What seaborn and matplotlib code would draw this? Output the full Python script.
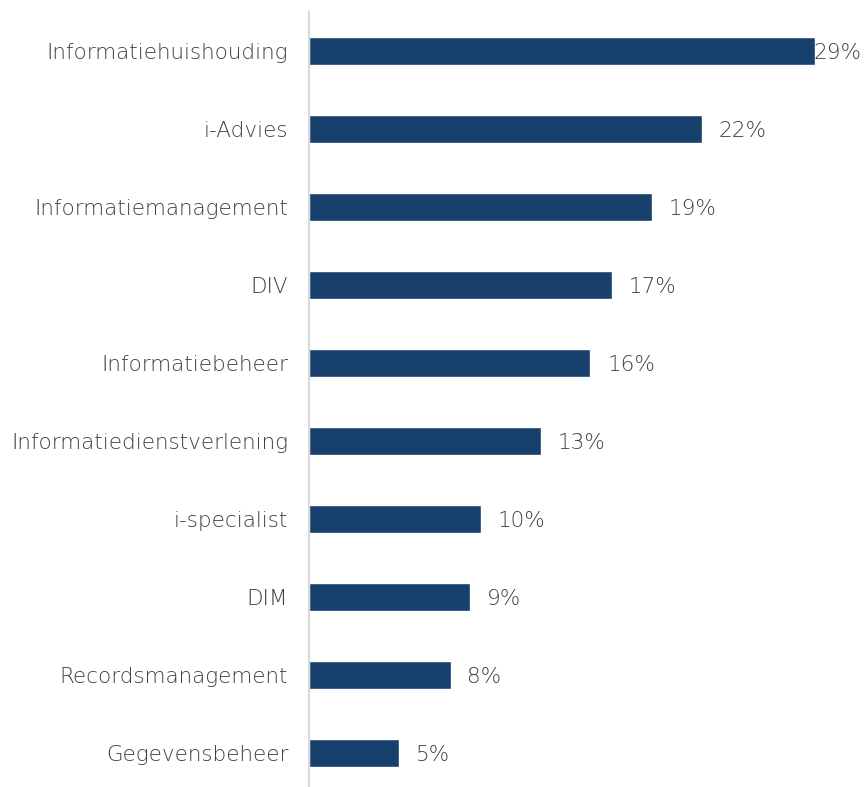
import matplotlib
matplotlib.use("Agg")
import matplotlib.pyplot as plt
import seaborn as sns
import pandas as pd

# terms used, share of respondents (%)
categories = ["Informatiehuishouding", "i-Advies", "Informatiemanagement", "DIV",
              "Informatiebeheer", "Informatiedienstverlening", "i-specialist", "DIM",
              "Recordsmanagement", "Gegevensbeheer"]
values = [28.6, 22.2, 19.4, 17.1, 15.9, 13.1, 9.7, 9.1, 8.0, 5.1]

df = pd.DataFrame({"term": categories, "pct": values})

sns.set_style("white")
plt.rcParams['font.family'] = ['DejaVu Sans']

fig = plt.figure(figsize=(8.64, 7.87), dpi=100)
ax = fig.add_axes([309 / 864, -5 / 787, 1 - 309 / 864, 780 / 787])

sns.barplot(data=df, x="pct", y="term", orient="h", color="#17406D",
            width=0.36, saturation=1, ax=ax)

ax.set_xlim(0, 31.36)
ax.set_xlabel("")
ax.set_ylabel("")
ax.set_xticks([])
for s in ["top", "right", "bottom"]:
    ax.spines[s].set_visible(False)
ax.spines["left"].set_color("#D9D9D9")
ax.spines["left"].set_linewidth(1.5)
ax.tick_params(axis="y", length=0, pad=15, labelsize=15.5, labelcolor="#3f3f3f")
for t in ax.get_yticklabels():
    t.set_fontweight("light")

for i, v in enumerate(values):
    x = min(v + 0.95, 28.5)
    ax.text(x, i + 0.03, f"{round(v)}%", va="center", ha="left",
            fontsize=15.5, color="#3f3f3f", fontweight="light")

fig.savefig("out.png", dpi=100)
